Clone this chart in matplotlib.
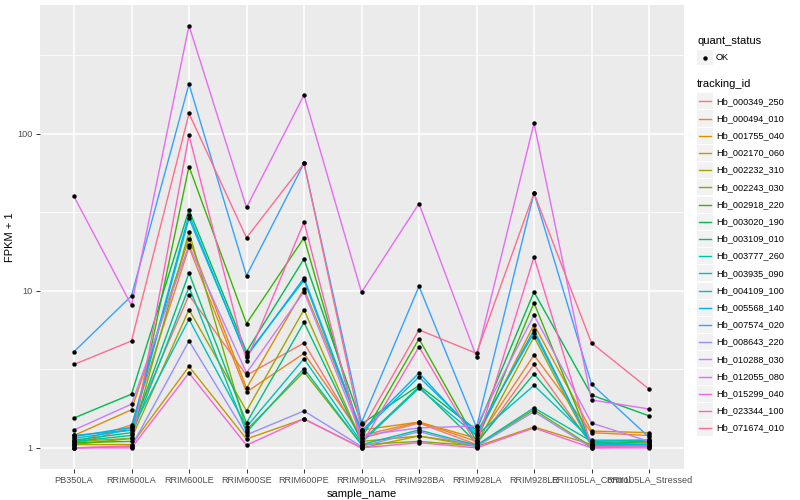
import matplotlib
matplotlib.use("Agg")
import matplotlib.pyplot as plt
import numpy as np
from matplotlib.patches import Rectangle
from matplotlib.lines import Line2D

plt.rcParams['font.family'] = ['Liberation Sans', 'DejaVu Sans']

samples = ["PB350LA", "RRIM600LA", "RRIM600LE", "RRIM600SE", "RRIM600PE",
           "RRIM901LA", "RRIM928BA", "RRIM928LA", "RRIM928LE",
           "RRII105LA_Control", "RRII105LA_Stressed"]

tracking_ids = ["Hb_000349_250", "Hb_000494_010", "Hb_001755_040", "Hb_002170_060",
                "Hb_002232_310", "Hb_002243_030", "Hb_002918_220", "Hb_003020_190",
                "Hb_003109_010", "Hb_003777_260", "Hb_003935_090", "Hb_004109_100",
                "Hb_005568_140", "Hb_007574_020", "Hb_008643_220", "Hb_010288_030",
                "Hb_012055_080", "Hb_015299_040", "Hb_023344_100", "Hb_071674_010"]

colors = ["#F8766D", "#EA8331", "#D89000", "#C09B00", "#A3A500", "#7CAE00",
          "#39B600", "#00BB4E", "#00BF7D", "#00C1A3", "#00BFC4", "#00BAE0",
          "#00B0F6", "#35A2FF", "#9590FF", "#C77CFF", "#E76BF3", "#FA62DB",
          "#FF62BC", "#FF6C91"]

hb_000349_250 = [1.05, 1.35, 9.4, 2.9, 4.66, 1.15, 1.44, 1.05, 3.4, 1.05, 1.05]
hb_000494_010 = [1.08, 1.4, 19.0, 2.27, 4.0, 1.2, 1.46, 1.1, 3.9, 1.25, 1.2]
hb_001755_040 = [1.2, 1.75, 21.5, 2.4, 10.3, 1.3, 1.46, 1.15, 6.1, 1.28, 1.25]
hb_002170_060 = [1.05, 1.05, 3.3, 1.14, 1.53, 1.0, 1.19, 1.02, 1.36, 1.05, 1.08]
hb_002232_310 = [1.1, 1.15, 7.6, 1.72, 7.6, 1.1, 1.19, 1.05, 5.1, 1.02, 1.05]
hb_002243_030 = [1.05, 1.15, 23.7, 1.3, 3.05, 1.05, 1.1, 1.03, 1.75, 1.02, 1.06]
hb_002918_220 = [1.08, 1.1, 62.0, 6.2, 21.8, 1.15, 4.95, 1.1, 8.4, 1.05, 1.1]
hb_003020_190 = [1.55, 2.2, 32.8, 4.1, 16.0, 1.42, 2.5, 1.3, 9.85, 2.17, 1.6]
hb_003109_010 = [1.12, 1.25, 13.0, 1.44, 6.3, 1.1, 2.45, 1.08, 2.96, 1.08, 1.1]
hb_003777_260 = [1.1, 1.2, 10.6, 1.26, 3.2, 1.05, 1.3, 1.04, 1.8, 1.1, 1.12]
hb_003935_090 = [1.2, 1.3, 6.6, 1.36, 3.7, 1.08, 2.4, 1.2, 2.5, 1.12, 1.12]
hb_004109_100 = [1.15, 1.3, 29.0, 3.9, 11.7, 1.25, 2.83, 1.25, 5.4, 1.06, 1.05]
hb_005568_140 = [1.18, 1.35, 30.6, 3.8, 12.1, 1.28, 3.0, 1.2, 5.65, 1.04, 1.04]
hb_007574_020 = [4.1, 9.3, 208.0, 12.5, 65.0, 1.45, 10.7, 1.35, 42.0, 2.55, 1.17]
hb_008643_220 = [1.0, 1.02, 4.8, 1.21, 1.72, 1.02, 1.27, 1.02, 1.7, 1.0, 1.02]
hb_010288_030 = [1.3, 1.9, 19.5, 3.0, 9.9, 1.2, 1.34, 1.38, 7.0, 1.44, 1.1]
hb_012055_080 = [40.0, 8.1, 490.0, 34.0, 177.0, 9.8, 36.0, 3.8, 117.0, 2.02, 1.77]
hb_015299_040 = [1.0, 1.0, 3.0, 1.04, 1.53, 1.0, 1.08, 1.0, 1.34, 1.0, 1.0]
hb_023344_100 = [1.0, 1.03, 98.0, 3.6, 27.5, 1.05, 4.4, 1.05, 16.5, 1.02, 1.03]
hb_071674_010 = [3.4, 4.8, 135.0, 21.8, 65.0, 1.3, 5.65, 4.0, 42.0, 4.66, 2.37]

series = [hb_000349_250, hb_000494_010, hb_001755_040, hb_002170_060, hb_002232_310,
          hb_002243_030, hb_002918_220, hb_003020_190, hb_003109_010, hb_003777_260,
          hb_003935_090, hb_004109_100, hb_005568_140, hb_007574_020, hb_008643_220,
          hb_010288_030, hb_012055_080, hb_015299_040, hb_023344_100, hb_071674_010]

W, H = 800, 500
fig = plt.figure(figsize=(8, 5), dpi=100)
ax = fig.add_axes([39.5 / W, 1 - 469 / H, (683.5 - 39.5) / W, (469 - 4.5) / H])
ax.set_facecolor("#EBEBEB")
for s in ax.spines.values():
    s.set_visible(False)

x = np.arange(len(samples))
for vals, c in zip(series, colors):
    ax.plot(x, vals, color=c, lw=1.0, zorder=3, solid_capstyle="butt")
for vals in series:
    ax.plot(x, vals, ls="none", marker="o", ms=3.2, color="black", mec="black", mew=0, zorder=4)

ax.set_yscale("log")
ax.set_yticks([1, 10, 100])
ax.set_yticklabels(["1", "10", "100"])
ax.set_yticks([10 ** 0.5, 10 ** 1.5, 10 ** 2.5], minor=True)
ax.yaxis.set_minor_formatter(matplotlib.ticker.NullFormatter())
ax.set_xticks(x)
ax.set_xticklabels(samples)

allv = np.log10(np.concatenate([np.array(v) for v in series]))
lo, hi = allv.min(), allv.max()
r = hi - lo
ax.set_ylim(10 ** (lo - 0.05 * r), 10 ** (hi + 0.05 * r))
ax.set_xlim(-0.6, len(samples) - 1 + 0.6)

ax.grid(which="major", color="white", lw=1.1, zorder=0)
ax.grid(which="minor", axis="y", color="white", lw=0.55, zorder=0)
ax.set_axisbelow(True)
ax.tick_params(axis="both", which="major", length=2.8, width=0.7, color="#333333",
               labelsize=6.6, labelcolor="#4D4D4D", pad=2)
ax.tick_params(axis="y", which="minor", length=0)
ax.set_xlabel("sample_name", fontsize=8, labelpad=3)
ax.set_ylabel("FPKM + 1", fontsize=8, labelpad=2)

# legend
def fx(px):
    return px / W

def fy(py):
    return 1 - py / H

fig.text(fx(697), fy(41), "quant_status", fontsize=8, va="center", ha="left")
fig.patches.append(Rectangle((fx(697), fy(65)), 15.5 / W, 14.5 / H, transform=fig.transFigure,
                             facecolor="#F2F2F2", edgecolor="none"))
fig.lines.append(Line2D([fx(705)], [fy(57.5)], transform=fig.transFigure, marker="o",
                        ms=3.2, color="black", mew=0, ls="none"))
fig.text(fx(716), fy(57.5), "OK", fontsize=6.6, va="center", ha="left")

fig.text(fx(697), fy(84), "tracking_id", fontsize=8, va="center", ha="left")
y0, dy = 101.3, 17.2
for i, (name, c) in enumerate(zip(tracking_ids, colors)):
    yc = y0 + i * dy
    fig.patches.append(Rectangle((fx(697), fy(yc + 8.0)), 15.5 / W, 16.0 / H,
                                 transform=fig.transFigure, facecolor="#F2F2F2", edgecolor="none"))
    fig.lines.append(Line2D([fx(698.5), fx(711)], [fy(yc), fy(yc)], transform=fig.transFigure,
                            color=c, lw=1.0))
    fig.text(fx(716), fy(yc), name, fontsize=6.6, va="center", ha="left")

fig.savefig("out.png", dpi=100)
